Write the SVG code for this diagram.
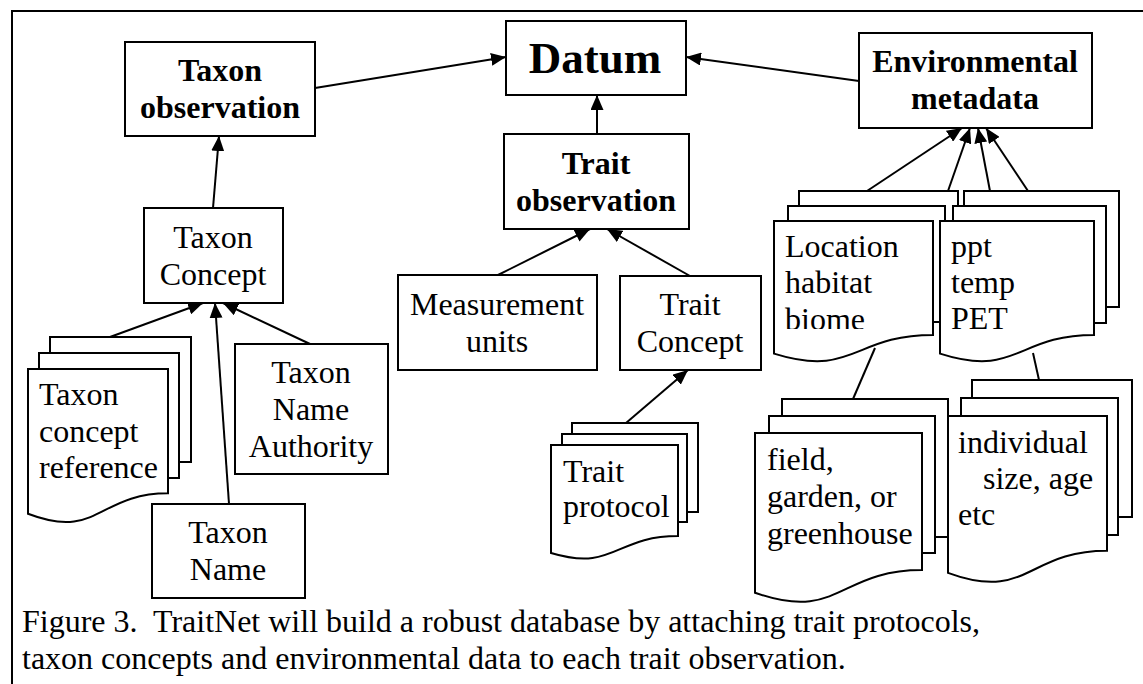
<svg xmlns="http://www.w3.org/2000/svg" width="1143" height="684" viewBox="0 0 1143 684">
  <defs>
    <style>
      .box { fill: #fff; stroke: #000; stroke-width: 2; }
      .page { fill: #fff; stroke: #000; stroke-width: 2; stroke-linejoin: miter; }
      .lbl { font-family: "Liberation Serif", "Times New Roman", serif; font-size: 32px; fill: #000; }
      .bold { font-weight: bold; }
      .mid { text-anchor: middle; }
      .edge { stroke: #000; stroke-width: 2; fill: none; }
      .arrow { marker-end: url(#head); }
    </style>
    <marker id="head" viewBox="0 0 15 13" refX="15" refY="6.5" markerWidth="15" markerHeight="13" markerUnits="userSpaceOnUse" orient="auto">
      <path d="M0,0 L15,6.5 L0,13 Z" fill="#000"/>
    </marker>
    <clipPath id="clip-location">
      <rect x="774" y="221" width="159" height="108"/>
    </clipPath>
  </defs>

  <rect width="1143" height="684" fill="#fff"/>

  <!-- figure frame -->
  <path d="M12,684 V11 H1143" class="edge"/>

  <!-- top row -->
  <g id="datum">
    <rect class="box" x="506" y="21" width="180" height="74"/>
    <text class="lbl bold mid" x="595" y="73" style="font-size:45px">Datum</text>
  </g>

  <g id="taxon-observation">
    <rect class="box" x="125" y="42" width="190" height="94"/>
    <text class="lbl bold mid" x="220" y="81">Taxon</text>
    <text class="lbl bold mid" x="220" y="118">observation</text>
  </g>

  <g id="environmental-metadata">
    <rect class="box" x="859" y="33" width="233" height="95"/>
    <text class="lbl bold mid" x="975" y="72">Environmental</text>
    <text class="lbl bold mid" x="975" y="109">metadata</text>
  </g>

  <g id="trait-observation">
    <rect class="box" x="504" y="134" width="185" height="95"/>
    <text class="lbl bold mid" x="596" y="174">Trait</text>
    <text class="lbl bold mid" x="596" y="211">observation</text>
  </g>

  <!-- taxon branch -->
  <g id="taxon-concept">
    <rect class="box" x="144" y="208" width="139" height="95"/>
    <text class="lbl mid" x="213" y="248">Taxon</text>
    <text class="lbl mid" x="213" y="285">Concept</text>
  </g>

  <g id="taxon-concept-reference">
    <rect class="page" x="50" y="337" width="141" height="125"/>
    <rect class="page" x="39" y="353" width="140" height="125"/>
    <path class="page" d="M28,369 H168 V493.3 C98,493.3 98,540.7 28,513.8 Z"/>
    <text class="lbl" x="39" y="405">Taxon</text>
    <text class="lbl" x="39" y="442">concept</text>
    <text class="lbl" x="39" y="478">reference</text>
  </g>

  <g id="taxon-name-authority">
    <rect class="box" x="235" y="344" width="153" height="130"/>
    <text class="lbl mid" x="311" y="383">Taxon</text>
    <text class="lbl mid" x="311" y="420">Name</text>
    <text class="lbl mid" x="311" y="457">Authority</text>
  </g>

  <g id="taxon-name">
    <rect class="box" x="152" y="504" width="153" height="94"/>
    <text class="lbl mid" x="228" y="543">Taxon</text>
    <text class="lbl mid" x="228" y="580">Name</text>
  </g>

  <!-- trait branch -->
  <g id="measurement-units">
    <rect class="box" x="398" y="275" width="199" height="95"/>
    <text class="lbl mid" x="497" y="315">Measurement</text>
    <text class="lbl mid" x="497" y="352">units</text>
  </g>

  <g id="trait-concept">
    <rect class="box" x="620" y="276" width="141" height="94"/>
    <text class="lbl mid" x="690" y="315">Trait</text>
    <text class="lbl mid" x="690" y="352">Concept</text>
  </g>

  <g id="trait-protocol">
    <rect class="page" x="572" y="423" width="126" height="89"/>
    <rect class="page" x="562" y="434" width="125" height="88"/>
    <path class="page" d="M551,445 H678 V536 C614.5,536 614.5,572 551,553 Z"/>
    <text class="lbl" x="563" y="482">Trait</text>
    <text class="lbl" x="563" y="517">protocol</text>
  </g>

  <!-- environment branch -->
  <g id="location-habitat-biome">
    <rect class="page" x="799" y="191" width="159" height="116"/>
    <rect class="page" x="788" y="206" width="157" height="116"/>
    <path class="page" d="M774,221 H933 V334.9 C853.5,334.9 853.5,378.3 774,353.6 Z"/>
    <g clip-path="url(#clip-location)">
      <text class="lbl" x="785" y="257">Location</text>
      <text class="lbl" x="785" y="293">habitat</text>
      <text class="lbl" x="785" y="329.5">biome</text>
    </g>
  </g>

  <g id="ppt-temp-pet">
    <rect class="page" x="964" y="191" width="155" height="116"/>
    <rect class="page" x="953" y="206" width="153" height="117"/>
    <path class="page" d="M940,221 H1094 V334.9 C1017,334.9 1017,378.3 940,353.6 Z"/>
    <text class="lbl" x="951" y="257">ppt</text>
    <text class="lbl" x="951" y="293">temp</text>
    <text class="lbl" x="951" y="329">PET</text>
  </g>

  <g id="field-garden-greenhouse">
    <rect class="page" x="782" y="399" width="166" height="138"/>
    <rect class="page" x="769" y="416" width="166" height="137"/>
    <path class="page" d="M755,433 H922 V570.1 C838.5,570.1 838.5,622.4 755,592.7 Z"/>
    <text class="lbl" x="767" y="470">field,</text>
    <text class="lbl" x="767" y="507">garden, or</text>
    <text class="lbl" x="767" y="544">greenhouse</text>
  </g>

  <g id="individual-size-age">
    <rect class="page" x="972" y="380" width="160" height="137"/>
    <rect class="page" x="961" y="398" width="157" height="137"/>
    <path class="page" d="M948,416 H1107 V550.7 C1027.5,550.7 1027.5,602.1 948,572.9 Z"/>
    <text class="lbl" x="958" y="453">individual</text>
    <text class="lbl" x="983" y="489">size, age</text>
    <text class="lbl" x="958" y="525">etc</text>
  </g>

  <!-- connectors -->
  <g id="connectors">
    <line class="edge arrow" x1="315" y1="88" x2="506" y2="57"/>
    <line class="edge arrow" x1="859" y1="81" x2="686" y2="57"/>
    <line class="edge arrow" x1="597" y1="134" x2="597" y2="95"/>
    <line class="edge arrow" x1="213" y1="208" x2="219" y2="136"/>
    <line class="edge arrow" x1="110" y1="337" x2="203" y2="303"/>
    <line class="edge arrow" x1="229" y1="504" x2="215" y2="303"/>
    <line class="edge arrow" x1="310" y1="344" x2="223" y2="303"/>
    <line class="edge arrow" x1="498" y1="275" x2="590" y2="229"/>
    <line class="edge arrow" x1="690" y1="276" x2="607" y2="229"/>
    <line class="edge arrow" x1="626" y1="423" x2="688" y2="370"/>
    <line class="edge arrow" x1="867" y1="191" x2="962" y2="128"/>
    <line class="edge arrow" x1="948" y1="191" x2="970" y2="128"/>
    <line class="edge arrow" x1="990" y1="191" x2="978" y2="128"/>
    <line class="edge arrow" x1="1028" y1="191" x2="986" y2="128"/>
    <line class="edge" x1="875" y1="348" x2="853" y2="399"/>
    <line class="edge" x1="1033" y1="353" x2="1039" y2="380"/>
  </g>

  <!-- caption -->
  <g id="caption">
    <text class="lbl" x="22" y="632" xml:space="preserve">Figure 3.  TraitNet will build a robust database by attaching trait protocols,</text>
    <text class="lbl" x="22" y="669">taxon concepts and environmental data to each trait observation.</text>
  </g>
</svg>
